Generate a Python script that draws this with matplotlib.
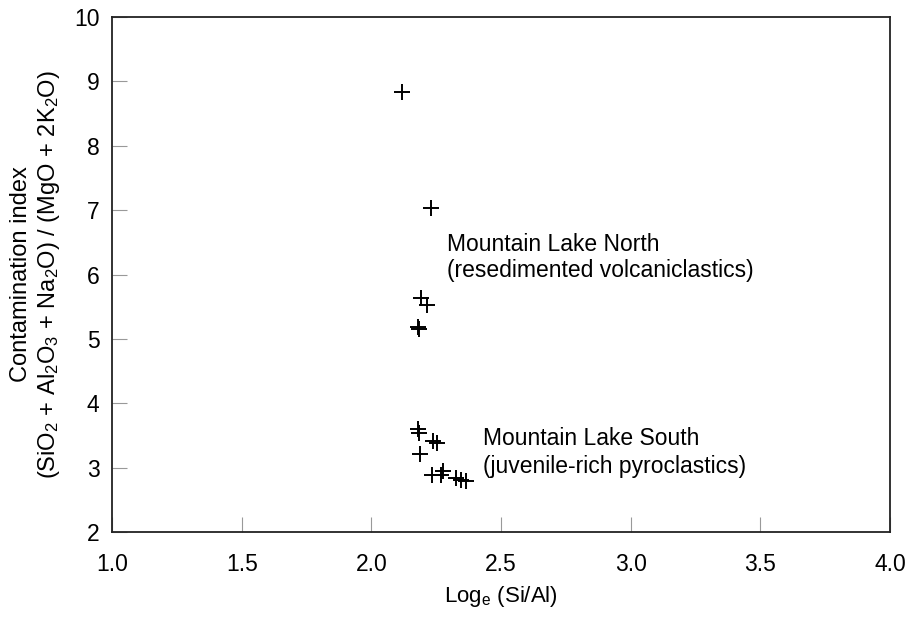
import matplotlib.pyplot as plt

plt.rcParams['font.family'] = ['Liberation Sans', 'DejaVu Sans']
plt.rcParams['mathtext.fontset'] = 'custom'
plt.rcParams['mathtext.rm'] = 'Liberation Sans'
plt.rcParams['mathtext.it'] = 'Liberation Sans'
plt.rcParams['mathtext.default'] = 'regular'

# Mountain Lake North (resedimented volcaniclastics)
north_x = [2.12, 2.23, 2.19, 2.215, 2.18, 2.185]
north_y = [8.84, 7.03, 5.64, 5.52, 5.19, 5.16]

# Mountain Lake South (juvenile-rich pyroclastics)
south_x = [2.178, 2.185, 2.237, 2.252, 2.188, 2.234, 2.275, 2.27, 2.327, 2.346, 2.363]
south_y = [3.60, 3.54, 3.42, 3.39, 3.21, 2.88, 2.94, 2.88, 2.84, 2.81, 2.79]

fig = plt.figure(figsize=(9.19, 6.21), dpi=100)
ax = fig.add_axes([0.1219, 0.1433, 0.8466, 0.8293])

ax.plot(north_x, north_y, '+', color='black', markersize=12, markeredgewidth=1.4)
ax.plot(south_x, south_y, '+', color='black', markersize=12, markeredgewidth=1.4)

ax.text(2.29, 6.65, 'Mountain Lake North\n(resedimented volcaniclastics)',
        fontsize=16.5, va='top', ha='left', linespacing=1.2)
ax.text(2.43, 3.63, 'Mountain Lake South\n(juvenile-rich pyroclastics)',
        fontsize=16.5, va='top', ha='left', linespacing=1.25)

ax.set_xlim(1.0, 4.0)
ax.set_ylim(2, 10)
ax.set_xticks([1.0, 1.5, 2.0, 2.5, 3.0, 3.5, 4.0])
ax.set_xticklabels(['1.0', '1.5', '2.0', '2.5', '3.0', '3.5', '4.0'])
ax.set_yticks(range(2, 11))
ax.tick_params(direction='in', length=11, width=0.8, color='#999999',
               labelsize=16.5)
ax.tick_params(axis='x', pad=15)
ax.tick_params(axis='y', pad=9)

for s in ax.spines.values():
    s.set_linewidth(1.3)
    s.set_color('#222222')

ax.set_xlabel('Log$_e$ (Si/Al)', fontsize=16)
ax.xaxis.set_label_coords(0.5, -0.1)
ax.set_ylabel('Contamination index\n(SiO$_2$ + Al$_2$O$_3$ + Na$_2$O) / (MgO + 2K$_2$O)',
              fontsize=17, linespacing=1.2, labelpad=9)

fig.savefig('out.png', dpi=100)
